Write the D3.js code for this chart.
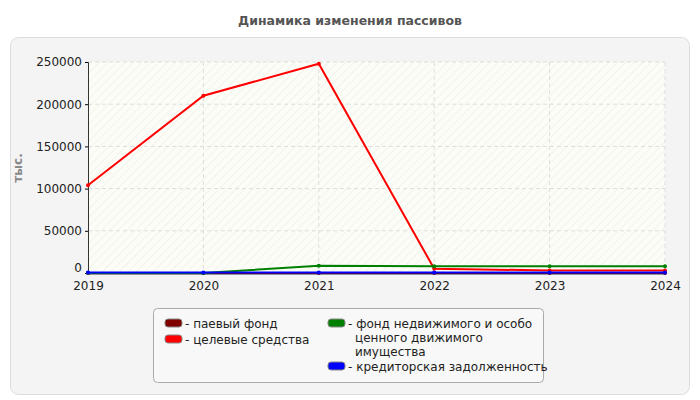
<!DOCTYPE html>
<html><head><meta charset="utf-8">
<script src="https://cdn.jsdelivr.net/npm/d3@7"></script>
<style>body{margin:0;background:#fff;font-family:"DejaVu Sans",Verdana,sans-serif}</style>
</head><body><svg width="700" height="400"></svg>
<script>
var years = [2019, 2020, 2021, 2022, 2023, 2024]
var paevoy = [0, 0, 0, 0, 0, 0]
var celevye = [104000, 210000, 248000, 5000, 3000, 3000]
var fond = [0, 0, 8500, 8000, 8000, 8000]
var kredit = [500, 500, 500, 500, 500, 500]
var yTicks = [0, 50000, 100000, 150000, 200000, 250000]

var series = [
  {name: "паевый фонд", vals: paevoy, color: "#800000"},
  {name: "целевые средства", vals: celevye, color: "#ff0000"},
  {name: "фонд недвижимого и особо ценного движимого имущества", vals: fond, color: "#008000"},
  {name: "кредиторская задолженность", vals: kredit, color: "#0000ff"}
]

var svg = d3.select("svg").attr("font-family", "'DejaVu Sans', sans-serif")
svg.append("text").attr("x", 350).attr("y", 25).attr("text-anchor", "middle")
  .attr("font-size", 12.5).attr("font-weight", "bold").attr("fill", "#555").text("Динамика изменения пассивов")

svg.append("rect").attr("x", 10.5).attr("y", 37.5).attr("width", 679).attr("height", 357).attr("rx", 8)
  .attr("fill", "#f4f4f4").attr("stroke", "#ddd")

var defs = svg.append("defs")
var pat = defs.append("pattern").attr("id", "hatch").attr("width", 6).attr("height", 6)
  .attr("patternUnits", "userSpaceOnUse").attr("patternTransform", "rotate(45)")
pat.append("rect").attr("width", 6).attr("height", 6).attr("fill", "#fdfdf8")
pat.append("line").attr("x1", 0).attr("y1", 0).attr("x2", 0).attr("y2", 6).attr("stroke", "#f0f0ea").attr("stroke-width", 1.5)

var x = d3.scaleLinear().domain([2019, 2024]).range([88, 665])
var y = d3.scaleLinear().domain([0, 250000]).range([273, 62])

svg.append("rect").attr("x", 88).attr("y", 62).attr("width", 577).attr("height", 211).attr("fill", "url(#hatch)")

// grid
svg.append("g").selectAll("line").data(yTicks.slice(1)).join("line")
  .attr("x1", 88).attr("x2", 665).attr("y1", d => y(d)).attr("y2", d => y(d))
  .attr("stroke", "#ddd").attr("stroke-dasharray", "4,3")
svg.append("g").selectAll("line").data(years.slice(1)).join("line")
  .attr("x1", d => x(d)).attr("x2", d => x(d)).attr("y1", 62).attr("y2", 273)
  .attr("stroke", "#ddd").attr("stroke-dasharray", "4,3")

var ya = svg.append("g").attr("transform", "translate(88,0)")
  .call(d3.axisLeft(y).tickValues(yTicks).tickSize(3).tickFormat(d3.format("d")))
ya.selectAll("text").attr("font-size", 12).attr("fill", "#222").attr("font-family", "'DejaVu Sans', sans-serif")
ya.selectAll(".tick text").filter(d => d === 0).attr("dy", "-0.1em")
var xa = svg.append("g").attr("transform", "translate(0,273)")
  .call(d3.axisBottom(x).tickValues(years).tickSize(0).tickPadding(8).tickFormat(d3.format("d")))
xa.selectAll("text").attr("font-size", 12).attr("fill", "#222").attr("font-family", "'DejaVu Sans', sans-serif")
xa.select(".domain").attr("stroke", "#333").attr("stroke-width", 2)
ya.select(".domain").attr("stroke", "#333")

svg.append("text").attr("transform", "translate(22,168) rotate(-90)").attr("text-anchor", "middle")
  .attr("font-size", 12).attr("font-weight", "bold").attr("fill", "#888").text("тыс.")

var line = d3.line().x((d, i) => x(years[i])).y(d => y(d))
series.forEach(function(s) {
  svg.append("path").datum(s.vals).attr("d", line).attr("fill", "none")
    .attr("stroke", s.color).attr("stroke-width", 2)
  svg.append("g").selectAll("circle").data(s.vals).join("circle")
    .attr("cx", (d, i) => x(years[i])).attr("cy", d => y(d)).attr("r", 2).attr("fill", s.color)
})

// legend
svg.append("rect").attr("x", 153.5).attr("y", 308.5).attr("width", 390).attr("height", 74).attr("rx", 4)
  .attr("fill", "#f8f8f8").attr("stroke", "#aaa")
var leg = [
  {s: series[0], x: 165, y: 324, lines: ["паевый фонд"]},
  {s: series[1], x: 165, y: 340, lines: ["целевые средства"]},
  {s: series[2], x: 328, y: 324, lines: ["фонд недвижимого и особо", "ценного движимого", "имущества"]},
  {s: series[3], x: 328, y: 367, lines: ["кредиторская задолженность"]}
]
leg.forEach(function(l) {
  svg.append("rect").attr("x", l.x).attr("y", l.y - 5).attr("width", 17).attr("height", 8).attr("rx", 3)
    .attr("fill", l.s.color).attr("stroke", "#888")
  var t = svg.append("text").attr("font-size", 12).attr("fill", "#222")
  l.lines.forEach(function(str, i) {
    t.append("tspan").attr("x", i ? l.x + 27 : l.x + 20).attr("y", l.y + 4 + i * 14).text((i ? "" : "- ") + str)
  })
})
</script></body></html>
